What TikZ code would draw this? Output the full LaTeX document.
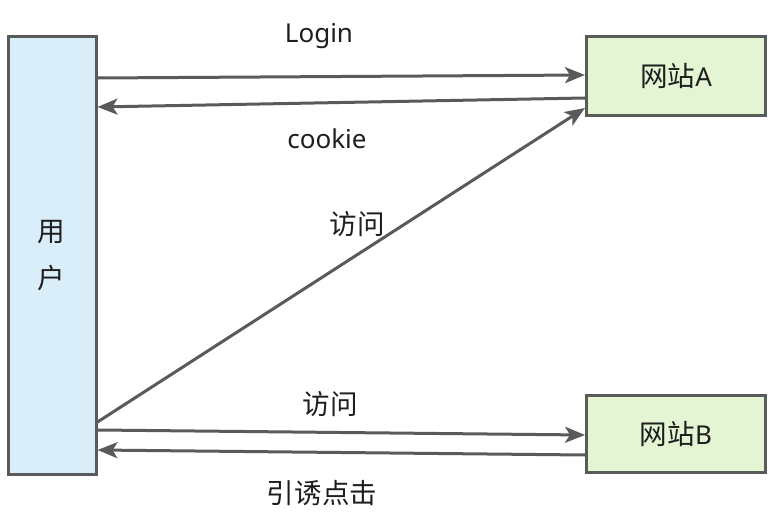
\documentclass[tikz,border=0pt]{standalone}
\usepackage{fontspec}
\setmainfont{Noto Sans}
\newfontfamily\cjk[Scale=1.06]{Noto Sans CJK SC}
\usetikzlibrary{arrows.meta}
\definecolor{edge}{HTML}{5A5A5A}
\definecolor{userfill}{HTML}{DAEEFA}
\definecolor{sitefill}{HTML}{E3F5D3}
\definecolor{txt}{HTML}{1E1E1E}
\begin{document}
\begin{tikzpicture}[x=1pt,y=-1pt,
  box/.style={draw=edge,line width=3pt,inner sep=0pt,text=txt,font=\fontsize{26}{30}\selectfont},
  conn/.style={draw=edge,line width=3pt,-{Stealth[length=20pt,width=16pt,inset=5pt]}},
  lbl/.style={text=txt,font=\fontsize{26}{30}\selectfont,inner sep=0pt}]
\useasboundingbox (0,0) rectangle (777,532);
\node[box,fill=userfill,minimum width=88pt,minimum height=437.5pt,align=center] (user) at (52,255.25) {};
\node[lbl] (uname1) at (51,232) {\cjk 用};
\node[lbl] (uname2) at (51,278) {\cjk 户};
\node[box,fill=sitefill,minimum width=179pt,minimum height=79pt] (A) at (676,76) {\cjk 网站\normalfont A};
\node[box,fill=sitefill,minimum width=179pt,minimum height=77.5pt] (B) at (676,433.75) {\cjk 网站\normalfont B};
\coordinate (u1) at (user.east |- 0,78);
\coordinate (u2) at (user.east |- 0,107);
\coordinate (u3) at (user.east |- 0,422);
\coordinate (u4) at (user.east |- 0,430);
\coordinate (u5) at (user.east |- 0,450);
\coordinate (a1) at (A.west |- 0,75);
\coordinate (a2) at (A.west |- 0,98);
\coordinate (a3) at (A.west |- 0,108);
\coordinate (b1) at (B.west |- 0,435);
\coordinate (b2) at (B.west |- 0,455);
\draw[conn] (u1) -- (a1);
\draw[conn] (a2) -- (u2);
\draw[conn] (u3) -- (a3);
\draw[conn] (u4) -- (b1);
\draw[conn] (b2) -- (u5);
\node[lbl] (l1) at (319,36) {Login};
\node[lbl] (l2) at (327,139) {cookie};
\node[lbl] (l3) at (357,224) {\cjk 访问};
\node[lbl] (l4) at (330,404) {\cjk 访问};
\node[lbl] (l5) at (322,493) {\cjk 引诱点击};
\end{tikzpicture}
\end{document}
